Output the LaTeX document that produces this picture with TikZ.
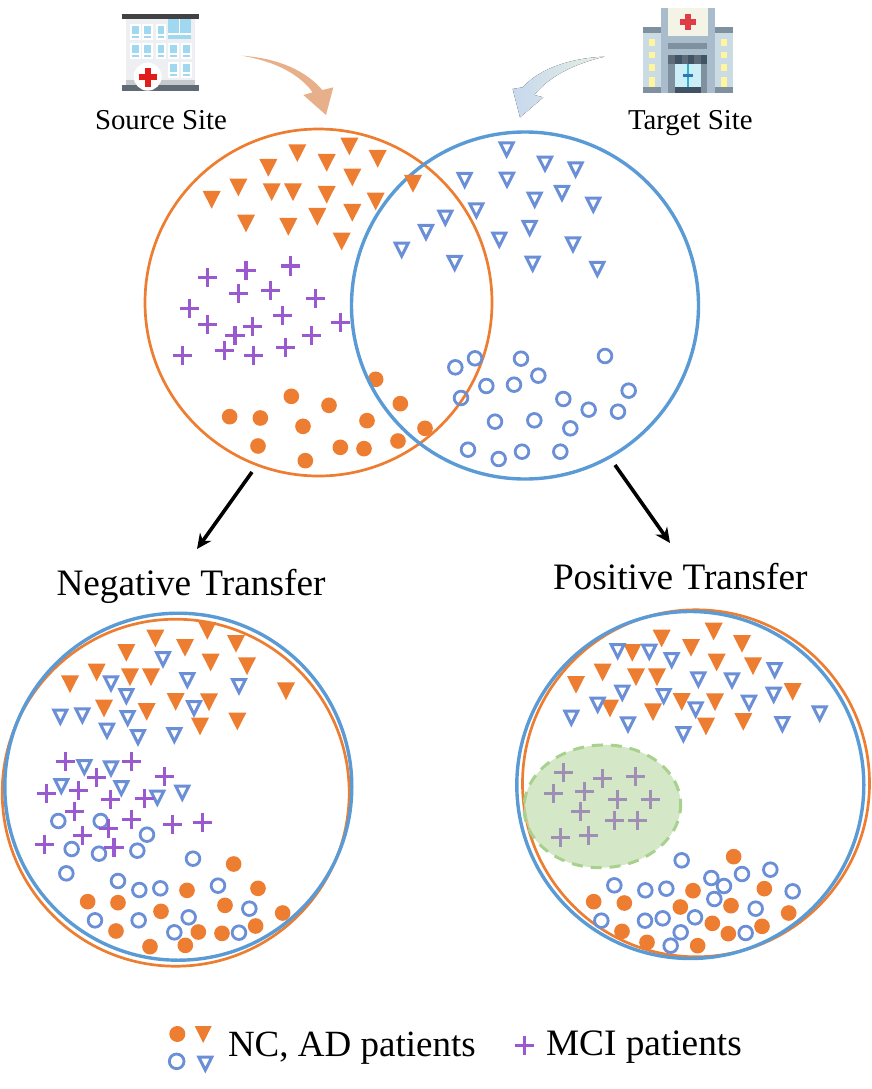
\documentclass[tikz,border=0pt]{standalone}
\usepackage{fontspec}
\setmainfont{Liberation Serif}
\usetikzlibrary{arrows.meta}
\definecolor{ornge}{HTML}{ED7D31}
\definecolor{blring}{HTML}{5B9BD5}
\definecolor{blmark}{HTML}{6A8FD6}
\definecolor{purp}{HTML}{9B59D0}
\definecolor{greyplus}{HTML}{A08FB5}
\definecolor{grfill}{HTML}{C5E0B4}
\definecolor{gredge}{HTML}{A9D18E}
\definecolor{hbody}{HTML}{EEEFF3}
\definecolor{hroof}{HTML}{404244}
\definecolor{hbase}{HTML}{5F6A72}
\definecolor{hstrip}{HTML}{C5C8CC}
\definecolor{hglass}{HTML}{A0D8F0}
\definecolor{hred}{HTML}{E21B1B}
\definecolor{ttower}{HTML}{A9BCCB}
\definecolor{tcream}{HTML}{F3F3E6}
\definecolor{tred}{HTML}{E03C46}
\definecolor{tgrey}{HTML}{7F909E}
\definecolor{twing}{HTML}{CADBE4}
\definecolor{tyell}{HTML}{FFF5A0}
\definecolor{tdark}{HTML}{3F5364}
\definecolor{tdark2}{HTML}{5D6B78}
\definecolor{tglass}{HTML}{CBEEF7}
\definecolor{tbar}{HTML}{2AB0D0}
\definecolor{thand}{HTML}{2E75B6}
\definecolor{swooshO}{HTML}{E8B08A}
\definecolor{swooshB}{HTML}{C8D8EE}
\definecolor{swooshT}{HTML}{E6F0E2}
\tikzset{
 orring/.style={draw=ornge,line width=2.7pt},
 blueloop/.style={draw=blring,line width=3.4pt},
 zoomed/.style={x=0.33333pt,y=-0.33333pt},
 lbl/.style={anchor=base west,inner sep=0pt,outer sep=0pt,text=black},
 plusmark/.style={draw=purp,line width=3.6pt},
 greymark/.style={draw=greyplus,line width=3.6pt},
 openmark/.style={draw=blmark,line width=2.8pt},
 opentri/.style={draw=blmark,line width=3pt,fill=white,miter limit=10},
 bigarrow/.style={line width=3.6pt,-{Stealth[length=15pt,width=14pt]}}
}
\newcommand{\triF}[1]{\foreach \x/\y in {#1}{\fill[ornge] (\x-27,\y-26)--(\x+27,\y-26)--(\x,\y+27)--cycle;}}
\newcommand{\triO}[1]{\foreach \x/\y in {#1}{\draw[opentri] (\x-19.5,\y-21.5)--(\x+19.5,\y-21.5)--(\x,\y+17.4)--cycle;}}
\newcommand{\cirF}[1]{\foreach \x/\y in {#1}{\fill[ornge] (\x,\y) circle[radius=23.5];}}
\newcommand{\cirO}[1]{\foreach \x/\y in {#1}{\draw[openmark] (\x,\y) circle[radius=20.5];}}
\newcommand{\plusM}[2][plusmark]{\foreach \x/\y in {#2}{\draw[#1] (\x-29,\y)--(\x+29,\y) (\x,\y-29)--(\x,\y+29);}}
\begin{document}
\begin{tikzpicture}[x=1pt,y=-1pt]
\useasboundingbox (0,0) rectangle (872,1089);
% ---- source hospital icon
\begin{scope}[shift={(90pt,0pt)},zoomed]
 \fill[hbody] (108,58) rectangle (315,255);
 \fill[hstrip] (108,240) rectangle (315,255);
 \fill[hroof] (96,42) rectangle (327,58);
 \fill[hbase] (96,255) rectangle (327,272);
 \foreach \x/\y in {120/72,157/72,197/72,120/130,157/130,197/130,235/130,273/130,235/187,273/187}{
  \fill[white] (\x,\y) rectangle (\x+32,\y+47);
  \fill[hglass] (\x+6,\y+6) rectangle (\x+26,\y+29);
  \fill[hglass] (\x+6,\y+35) rectangle (\x+26,\y+41);
 }
 \fill[hglass] (235,58) rectangle (303,118);
 \fill[white] (266,58) rectangle (270,103);
 \fill[white] (235,100) rectangle (303,105);
 \fill[white] (173,230) circle[radius=42];
 \fill[hred] (146,223) rectangle (201,241);
 \fill[hred] (164,205) rectangle (183,260);
\end{scope}
% ---- target hospital icon
\begin{scope}[shift={(500pt,0pt)},zoomed]
 \fill[ttower] (484,24) rectangle (644,278);
 \fill[tcream] (503,24) rectangle (625,108);
 \fill[tred] (540,58) rectangle (588,74);
 \fill[tred] (556,42) rectangle (572,90);
 \foreach \a in {428,644}{
  \fill[twing] (\a,100) rectangle (\a+56,260);
  \fill[tgrey] (\a,80) rectangle (\a+56,100);
  \fill[tgrey] (\a,260) rectangle (\a+56,278);
  \foreach \b/\c in {118/137,155/175,193/213,232/260}{
   \fill[tyell] (\a+19,\b) rectangle (\a+37,\c);
  }
 }
 \fill[tgrey] (503,128) rectangle (621,148);
 \fill[tgrey] (503,165) rectangle (621,278);
 \fill[tdark2] (503,165) rectangle (621,193);
 \foreach \a in {526,564,602}{\fill[tdark] (\a,165) rectangle (\a+19,193);}
 \fill[tglass] (526,193) rectangle (602,262);
 \fill[tbar] (560,193) rectangle (568,262);
 \fill[thand] (550,222) rectangle (578,232);
 \fill[tdark] (526,262) rectangle (602,278);
\end{scope}
% ---- swoosh arrows
\begin{scope}[shift={(90pt,0pt)},zoomed]
 \fill[swooshO] (455,167) .. controls (570,175) and (650,215) .. (697,270)
  -- (730,262) -- (708,345) -- (640,285) -- (668,277)
  .. controls (630,225) and (560,185) .. (455,167) -- cycle;
\end{scope}
\begin{scope}[shift={(500pt,0pt)},zoomed]
 \fill[left color=swooshB,right color=swooshT] (313,170) .. controls (210,175) and (120,205) .. (68,262)
  -- (38,267) -- (60,352) -- (130,292) -- (103,285)
  .. controls (150,225) and (230,190) .. (313,170) -- cycle;
\end{scope}
% ---- labels at top
\node[lbl,font=\fontsize{28.8}{30}\selectfont] (srclabel) at (95,130) {Source Site};
\node[lbl,font=\fontsize{28.8}{30}\selectfont] (tgtlabel) at (628,130) {Target Site};
% ---- Venn diagram
\draw[orring] (318.5,302.5) circle[radius=173.5];
\begin{scope}[shift={(140pt,-125pt)},zoomed]
 \cirF{454/814,269/875,361/879,567/841,489/904,681/887,354/963,601/967,672/971,496/1007,774/948,707/763,781/836,855/910}
\end{scope}
\draw[blueloop] (525,305.5) circle[radius=173.5];
\begin{scope}[shift={(140pt,-125pt)},zoomed]
 \triF{628/64,472/84,560/113,713/101,385/128,637/157,295/187,395/201,459/201,560/209,215/224,707/229,532/275,637/263,318/295,445/305,605/349,819/176}
 \plusM{203/457,318/436,452/423,296/505,391/496,527/520,148/550,428/572,202/599,337/605,285/632,601/592,514/631,253/677,437/667,127/691,340/691}
\end{scope}
\begin{scope}[shift={(345pt,-125pt)},zoomed]
 \triO{485/75,600/118,692/135,359/167,486/166,651/206,569/226,745/241,394/258,301/280,243/323,554/311,463/346,170/376,684/360,329/416,563/418,757/434}
 \cirO{331/727,390/700,528/701,780/693,580/752,424/783,507/779,348/819,655/822,851/797,731/854,819/860,450/890,568/886,676/910,369/974,461/1002,531/980,646/980}
\end{scope}
% ---- big arrows and titles
\coordinate (nfrom) at (252,472);
\coordinate (nto) at (197,549);
\coordinate (pfrom) at (615,465);
\coordinate (pto) at (670,543);
\draw[bigarrow] (nfrom) -- (nto);
\draw[bigarrow] (pfrom) -- (pto);
\node[lbl,font=\fontsize{37.3}{40}\selectfont] (negtitle) at (56.5,595) {Negative Transfer};
\node[lbl,font=\fontsize{37.3}{40}\selectfont] (postitle) at (553,589) {Positive Transfer};
% ---- negative transfer panel
\draw[orring] (175.7,792.7) circle[radius=173.5];
\draw[blueloop] (178.3,786.7) circle[radius=173.5];
\begin{scope}[shift={(0pt,-610pt)},zoomed]
 \triF{622/62,466/85,555/113,708/101,379/128,632/157,290/187,390/201,453/201,741/168,210/222,858/243,527/275,627/276,312/295,440/305,600/349,712/334}
 \cirF{701/762,774/835,561/841,263/875,354/878,675/886,483/904,848/909,767/948,348/963,595/966,666/970,450/1010,556/1006}
 \triO{489/149,333/222,379/260,562/212,717/230,181/322,247/318,582/296,383/326,321/364,414/383,523/377,253/473,333/477,184/530,364/536,472/565,547/550}
 \cirO{175/633,302/633,441/674,215/717,297/731,412/722,579/746,199/790,354/813,418/840,481/835,654/827,748/896,285/931,416/931,566/922,523/967,717/968}
 \plusM{196/455,394/455,289/503,493/499,140/550,235/542,332/568,433/566,223/604,394/628,325/656,517/643,607/637,247/676,133/703,342/712}
\end{scope}
% ---- positive transfer panel
\draw[orring] (696,783.3) circle[radius=173.5];
\draw[blueloop] (690.3,785) circle[radius=173.5];
\begin{scope}[shift={(510pt,-610pt)},zoomed]
 \fill[grfill,opacity=.75] (277,589) ellipse[x radius=235,y radius=184,rotate=3];
 \draw[gredge,line width=3pt,dash pattern=on 11pt off 8pt] (277,589) ellipse[x radius=235,y radius=184,rotate=3];
 \triF{611/64,455/85,543/113,696/101,367/128,620/157,278/187,378/201,441/201,729/168,198/224,848/245,515/275,615/276,300/295,429/306,588/349,700/335}
 \cirF{671/740,763/836,549/842,251/875,343/879,663/887,511/891,836/909,607/940,756/949,336/964,655/971,411/997,563/1007}
 \triO{323/125,418/127,485/152,794/182,565/210,666/213,337/250,461/260,791/256,717/280,263/286,557/300,929/312,184/325,354/345,817/344,520/374}
 \cirO{515/751,781/779,696/792,604/804,642/828,313/826,406/841,469/836,848/844,613/867,737/896,274/932,405/932,458/925,555/922,512/967,707/969,482/1007}
 \plusM[greymark]{160/487,278/505,376/499,130/550,223/544,322/568,421/568,212/605,313/631,382/631,151/682,235/676}
\end{scope}
% ---- legend
\begin{scope}[shift={(160pt,-1015pt)},zoomed]
 \fill[ornge] (52,57) circle[radius=24];
 \fill[ornge] (104,33)--(155,33)--(129.5,84)--cycle;
 \draw[openmark] (50,139) circle[radius=22];
 \triO{136/148}
\end{scope}
\begin{scope}[shift={(500pt,-1015pt)},zoomed]
 \plusM{74/91}
\end{scope}
\node[lbl,font=\fontsize{37}{40}\selectfont] (leg1) at (228,1056) {NC, AD patients};
\node[lbl,font=\fontsize{37.3}{40}\selectfont] (leg2) at (546,1055) {MCI patients};
\end{tikzpicture}
\end{document}
